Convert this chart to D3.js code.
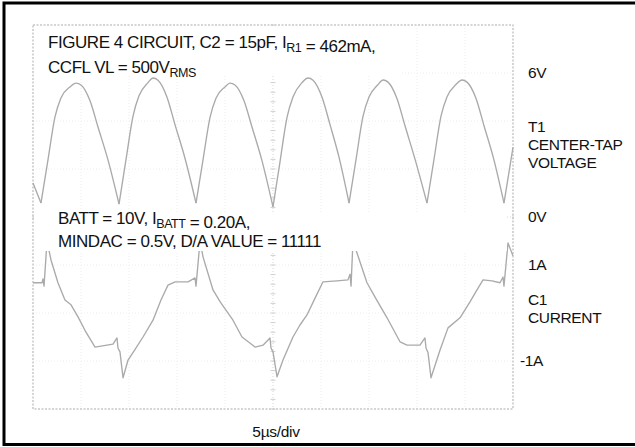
<!DOCTYPE html>
<html>
<head>
<meta charset="utf-8">
<script src="https://cdn.jsdelivr.net/npm/d3@7/dist/d3.min.js"></script>
<style>
  body { margin: 0; background: #fff; }
  svg { display: block; font-family: "Liberation Sans", Arial, sans-serif; }
</style>
</head>
<body>
<svg id="chart" width="635" height="447"></svg>
<script>
// scope trace, time in us (5us/div), top trace in V (2V/div), bottom trace in A (1A/div)
var timeDivs = [0, 5, 10, 15, 20, 25, 30, 35, 40, 45, 50];
var voltDivs = [-8, -6, -4, -2, 0, 2, 4, 6, 8];

var voltTime = [0.00, 0.83,
  1.56, 2.29, 2.91, 3.85, 4.48, 5.00, 5.93, 6.77, 7.81, 8.96,
  9.69, 10.42, 11.04, 11.98, 12.50, 13.02, 13.95, 14.79, 15.83, 16.98,
  17.71, 18.44, 19.06, 20.00, 20.52, 21.04, 21.97, 22.81, 23.85, 25.00,
  25.73, 26.46, 27.08, 28.02, 28.65, 29.17, 30.10, 30.94, 31.90, 32.92,
  33.65, 34.38, 35.00, 35.90, 36.46, 36.98, 37.90, 38.75, 39.80, 41.04,
  41.77, 42.50, 43.12, 44.06, 44.69, 45.21, 46.14, 46.98, 48.00, 49.06,
  50.00];
var voltValue = [1.42, 0.58,
  2.38, 4.17, 4.96, 5.42, 5.58, 5.50, 4.85, 3.75, 2.38, 0.54,
  2.40, 4.20, 5.05, 5.60, 5.79, 5.70, 5.00, 3.85, 2.45, 0.58,
  2.38, 4.15, 4.95, 5.42, 5.58, 5.50, 4.85, 3.75, 2.35, 0.42,
  2.30, 4.15, 5.00, 5.60, 5.79, 5.70, 5.00, 3.85, 2.45, 0.58,
  2.40, 4.20, 5.00, 5.50, 5.71, 5.62, 4.95, 3.80, 2.40, 0.58,
  2.40, 4.20, 5.00, 5.52, 5.71, 5.62, 4.95, 3.80, 2.40, 0.58,
  2.90];

var currentTime = [0.00, 0.94, 1.04, 1.15, 1.46, 1.88, 2.60, 3.33, 3.96, 4.69,
  5.52, 6.46, 7.08, 8.33, 8.75, 8.85, 9.06, 9.38, 9.90, 10.60,
  11.46, 12.50, 13.33, 14.06, 14.80, 16.15, 16.88, 16.98, 17.40, 17.71,
  18.75, 19.50, 20.83, 21.77, 23.13, 23.96, 24.69, 24.79, 25.00, 25.42,
  26.04, 27.08, 27.81, 28.54, 29.38, 30.21, 31.67, 32.81, 33.02, 33.13,
  33.33, 33.75, 34.79, 35.63, 36.88, 38.23, 38.96, 40.31, 40.83, 40.94,
  41.15, 41.46, 42.40, 43.23, 44.48, 45.52, 46.25, 46.88, 47.81, 48.65,
  48.96, 49.06, 49.48, 50.00];
var currentValue = [0.63, 0.63, 0.71, 0.56, 1.50, 1.10, 0.63, 0.27, 0.17, -0.08,
  -0.40, -0.71, -0.69, -0.65, -0.52, -0.73, -0.81, -1.35, -0.98, -0.77,
  -0.50, -0.15, 0.27, 0.58, 0.65, 0.65, 0.73, 0.56, 1.50, 1.17,
  0.48, 0.23, -0.15, -0.50, -0.71, -0.67, -0.52, -0.73, -0.81, -1.33,
  -0.98, -0.50, -0.25, -0.04, 0.31, 0.65, 0.67, 0.69, 0.81, 0.56,
  1.50, 1.25, 0.63, 0.33, -0.10, -0.60, -0.67, -0.67, -0.52, -0.73,
  -0.83, -1.35, -0.77, -0.31, -0.10, 0.23, 0.48, 0.69, 0.67, 0.63,
  0.75, 0.56, 1.46, 1.19];

var voltMarks = [{ label: "6V", v: 6 }, { label: "0V", v: 0 }];
var currentMarks = [{ label: "1A", a: 1 }, { label: "-1A", a: -1 }];
var voltTitle = ["T1", "CENTER-TAP", "VOLTAGE"];
var currentTitle = ["C1", "CURRENT"];

var svg = d3.select("#chart");
var plot = { left: 33, right: 513, top: 25, bottom: 409 };

var x = d3.scaleLinear().domain([0, 50]).range([plot.left, plot.right]);
var yVolt = d3.scaleLinear().domain([-8, 8]).range([plot.bottom, plot.top]);
var yAmp = d3.scaleLinear().domain([-2, 6]).range([plot.bottom, plot.top]);

// graticule
var grid = svg.append("g").attr("class", "grid");
grid.selectAll("line.v")
  .data(timeDivs.slice(1, -1))
  .enter()
  .append("line")
  .attr("class", "v")
  .attr("x1", function(d) { return x(d); })
  .attr("x2", function(d) { return x(d); })
  .attr("y1", plot.top)
  .attr("y2", plot.bottom)
  .style("stroke", function(d) { return d === 25 ? "#d6d6d6" : "#ededed"; })
  .style("stroke-dasharray", "1,2");
grid.selectAll("line.h")
  .data(voltDivs.slice(1, -1))
  .enter()
  .append("line")
  .attr("class", "h")
  .attr("x1", plot.left)
  .attr("x2", plot.right)
  .attr("y1", function(d) { return yVolt(d); })
  .attr("y2", function(d) { return yVolt(d); })
  .style("stroke", function(d) { return d === 0 ? "#d6d6d6" : "#ededed"; })
  .style("stroke-dasharray", "1,2");

// minor ticks on the centre lines, 5 per division
var minorT = d3.range(0, 50.01, 1);
var minorV = d3.range(-8, 8.01, 0.4);
grid.selectAll("line.mt")
  .data(minorT)
  .enter()
  .append("line")
  .attr("class", "mt")
  .attr("x1", function(d) { return x(d); })
  .attr("x2", function(d) { return x(d); })
  .attr("y1", yVolt(0) - 2.5)
  .attr("y2", yVolt(0) + 2.5)
  .style("stroke", "#d0d0d0");
grid.selectAll("line.mv")
  .data(minorV)
  .enter()
  .append("line")
  .attr("class", "mv")
  .attr("x1", x(25) - 2.5)
  .attr("x2", x(25) + 2.5)
  .attr("y1", function(d) { return yVolt(d); })
  .attr("y2", function(d) { return yVolt(d); })
  .style("stroke", "#d0d0d0");
grid.append("rect")
  .attr("x", plot.left)
  .attr("y", plot.top)
  .attr("width", plot.right - plot.left)
  .attr("height", plot.bottom - plot.top)
  .style("fill", "none")
  .style("stroke", "#c8c8c8")
  .style("stroke-width", 1.5)
  .style("stroke-dasharray", "2,1.5");

// traces
var voltPoints = voltTime.map(function(t, i) { return [t, voltValue[i]]; });
var currentPoints = currentTime.map(function(t, i) { return [t, currentValue[i]]; });

// split the rectified wave at its cusps so the bottoms stay sharp
var voltSegments = [];
var seg = [voltPoints[0]];
voltPoints.slice(1).forEach(function(p, i) {
  seg.push(p);
  var next = voltPoints[i + 2];
  var prev = voltPoints[i];
  if (next && p[1] < prev[1] && p[1] < next[1]) {
    voltSegments.push(seg);
    seg = [p];
  }
});
voltSegments.push(seg);

var voltLine = d3.line()
  .x(function(d) { return x(d[0]); })
  .y(function(d) { return yVolt(d[1]); })
  .curve(d3.curveMonotoneX);
var ampLine = d3.line()
  .x(function(d) { return x(d[0]); })
  .y(function(d) { return yAmp(d[1]); });

svg.append("g")
  .selectAll("path")
  .data(voltSegments)
  .enter()
  .append("path")
  .attr("d", voltLine)
  .style("fill", "none")
  .style("stroke", "#aaaaaa")
  .style("stroke-width", 1.35)
  .style("stroke-linejoin", "round");
svg.append("path")
  .datum(currentPoints)
  .attr("d", ampLine)
  .style("fill", "none")
  .style("stroke", "#aaaaaa")
  .style("stroke-width", 1.35)
  .style("stroke-linejoin", "round");

// white label boxes laid over the screen
svg.append("rect")
  .attr("x", 35).attr("y", 27).attr("width", 365).attr("height", 49)
  .style("fill", "#fff");
svg.append("rect")
  .attr("x", 35).attr("y", 212).attr("width", 472).attr("height", 39)
  .style("fill", "#fff");

var notes = svg.append("g")
  .style("font-size", "17px")
  .style("letter-spacing", "-0.45px")
  .style("fill", "#111");
var addLine = function addLine(px, py, parts) {
  var t = notes.append("text").attr("x", px).attr("y", py);
  parts.forEach(function(p) {
    if (p.sub) {
      t.append("tspan").attr("dy", 3.5).style("font-size", "12.5px").text(p.sub);
      t.append("tspan").attr("dy", -3.5).text("");
    } else {
      t.append("tspan").text(p.text);
    }
  });
};
addLine(48, 48, [{ text: "FIGURE 4 CIRCUIT, C2 = 15pF, I" }, { sub: "R1" }, { text: " = 462mA," }]);
addLine(48, 73, [{ text: "CCFL VL = 500V" }, { sub: "RMS" }]);
addLine(58, 224, [{ text: "BATT = 10V, I" }, { sub: "BATT" }, { text: " = 0.20A," }]);
addLine(58, 247, [{ text: "MINDAC = 0.5V, D/A VALUE = 11111" }]);

// right hand labels
var side = svg.append("g")
  .style("font-size", "15.5px")
  .style("letter-spacing", "-0.35px")
  .style("fill", "#111");
side.selectAll("text.vm")
  .data(voltMarks)
  .enter()
  .append("text")
  .attr("x", 528)
  .attr("y", function(d) { return yVolt(d.v) + 5; })
  .text(function(d) { return d.label; });
side.selectAll("text.am")
  .data(currentMarks)
  .enter()
  .append("text")
  .attr("x", 528)
  .attr("y", function(d) { return yAmp(d.a) + 5; })
  .attr("dx", function(d) { return d.a < 0 ? -8 : 0; })
  .text(function(d) { return d.label; });
side.selectAll("text.vt")
  .data(voltTitle)
  .enter()
  .append("text")
  .attr("x", 528)
  .attr("y", function(d, i) { return yVolt(3) + 5 + (i - 1) * 18; })
  .text(function(d) { return d; });
side.selectAll("text.ct")
  .data(currentTitle)
  .enter()
  .append("text")
  .attr("x", 528)
  .attr("y", function(d, i) { return yAmp(0) + 1 + (i - 0.5) * 18; })
  .text(function(d) { return d; });

svg.append("text")
  .attr("x", 276)
  .attr("y", 437)
  .attr("text-anchor", "middle")
  .style("font-size", "15.5px")
  .style("letter-spacing", "-0.3px")
  .style("fill", "#111")
  .text("5\u00b5s/div");

// frame (top, left, bottom)
svg.append("path")
  .attr("d", "M635,3H4V444.5H635")
  .style("fill", "none")
  .style("stroke", "#000")
  .style("stroke-width", 3);
</script>
</body>
</html>
